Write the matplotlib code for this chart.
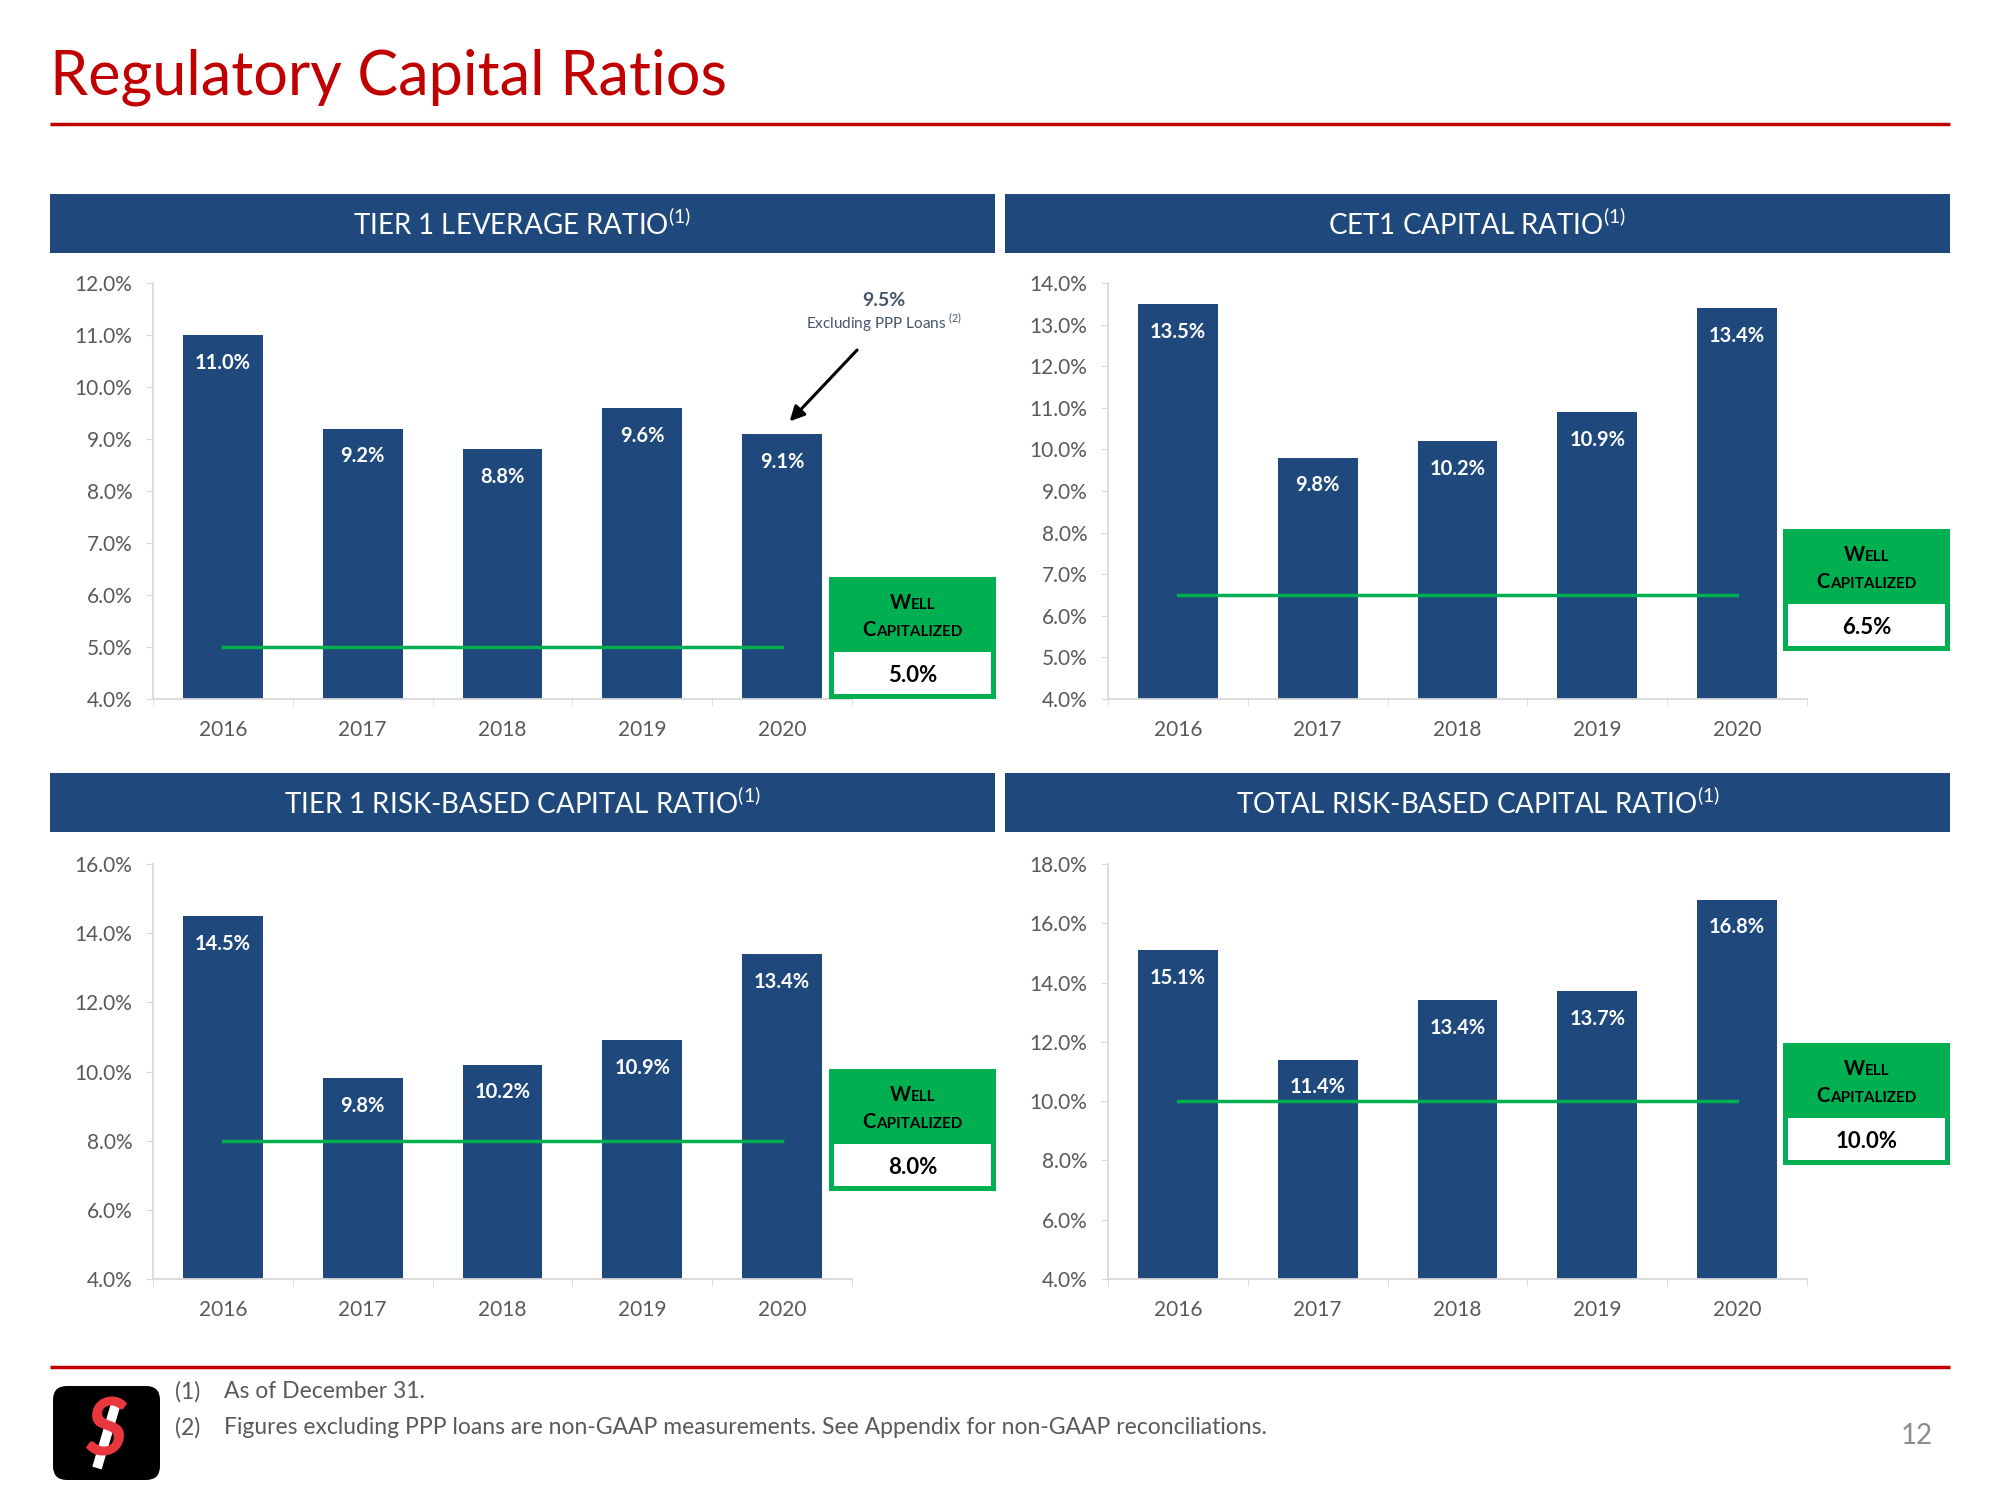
import matplotlib
matplotlib.use("Agg")
import matplotlib.pyplot as plt
import numpy as np
from matplotlib.patches import Rectangle, FancyBboxPatch
from matplotlib.offsetbox import TextArea, HPacker, AnnotationBbox

plt.rcParams['font.family'] = ['Lato', 'DejaVu Sans']

# data
years = ['2016', '2017', '2018', '2019', '2020']
tier1_leverage = [11.0, 9.2, 8.8, 9.6, 9.1]
cet1 = [13.5, 9.8, 10.2, 10.9, 13.4]
tier1_risk = [14.5, 9.8, 10.2, 10.9, 13.4]
total_risk = [15.1, 11.4, 13.4, 13.7, 16.8]
well_capitalized = [5.0, 6.5, 8.0, 10.0]
panel_titles = ['TIER 1 LEVERAGE RATIO', 'CET1 CAPITAL RATIO',
                'TIER 1 RISK-BASED CAPITAL RATIO', 'TOTAL RISK-BASED CAPITAL RATIO']
ppp_value = 9.5
footnotes = ['As of December 31.',
             'Figures excluding PPP loans are non-GAAP measurements. See Appendix for non-GAAP reconciliations.']

NAVY = '#1F497D'
GREEN = '#00B050'
RED = '#C00000'
GRAY = '#595959'
W, H = 2000, 1500


def rect(x0, y0, x1, y1):
    return [x0 / W, 1 - y1 / H, (x1 - x0) / W, (y1 - y0) / H]


fig = plt.figure(figsize=(20, 15), dpi=100)

# overlay in pixel coordinates for slide decorations
ov = fig.add_axes([0, 0, 1, 1], zorder=10)
ov.set_xlim(0, W)
ov.set_ylim(H, 0)
ov.axis('off')
ov.patch.set_alpha(0)

ov.text(50, 95, 'Regulatory Capital Ratios', color=RED, fontsize=44, va='baseline')
ov.plot([50, 1950], [124, 124], color=RED, lw=2.5, solid_capstyle='butt')

# (values, wc, ymax, step, axes px, header px, box x, box top)
panels = [
    (tier1_leverage, well_capitalized[0], 12, 1, (153, 283, 852, 699), (50, 194, 995, 253), 829, 577),
    (cet1, well_capitalized[1], 14, 1, (1108, 283, 1807, 699), (1005, 194, 1950, 253), 1783, 529),
    (tier1_risk, well_capitalized[2], 16, 2, (153, 864, 852, 1279), (50, 773, 995, 832), 829, 1069),
    (total_risk, well_capitalized[3], 18, 2, (1108, 864, 1807, 1279), (1005, 773, 1950, 832), 1783, 1043),
]


def small_caps(x, y, words, big=14.5, small=11):
    kids = []
    for w in words:
        kids.append(TextArea(w[0], textprops=dict(fontsize=big, fontweight='bold', color='black')))
        kids.append(TextArea(w[1:], textprops=dict(fontsize=small, fontweight='bold', color='black')))
    pack = HPacker(children=kids, align='baseline', pad=0, sep=0)
    ab = AnnotationBbox(pack, (x, y), xycoords='data', frameon=False, box_alignment=(0.5, 0.5))
    ov.add_artist(ab)


axes = []
for (vals, wc, ymax, step, apx, hpx, bx, btop), title in zip(panels, panel_titles):
    # header band
    ov.add_patch(Rectangle((hpx[0], hpx[1]), hpx[2] - hpx[0], hpx[3] - hpx[1], color=NAVY, lw=0))
    ov.text((hpx[0] + hpx[2]) / 2, (hpx[1] + hpx[3]) / 2 + 1,
            title + r'$^{\mathregular{(1)}}$', color='white', fontsize=20,
            ha='center', va='center')

    ax = fig.add_axes(rect(*apx))
    x = np.arange(len(years))
    ax.bar(x, vals, width=0.57, color=NAVY, zorder=2)
    for i, v in enumerate(vals):
        ax.annotate(f'{v:.1f}%', (i, v), xytext=(0, -20), textcoords='offset points',
                    ha='center', va='center', color='white', fontweight='bold', fontsize=14.5, zorder=3)
    ax.plot([0, len(years) - 1], [wc, wc], color=GREEN, lw=2.5, zorder=4)

    ax.set_xlim(-0.5, len(years) - 0.5)
    ax.set_ylim(4, ymax)
    yt = np.arange(4, ymax + 0.01, step)
    ax.set_yticks(yt)
    ax.set_yticklabels([f'{t:.1f}%' for t in yt])
    ax.set_xticks(x)
    ax.set_xticklabels(years)
    ax.set_xticks(np.arange(-0.5, len(years)), minor=True)
    ax.tick_params(axis='x', which='major', length=0, pad=15, labelsize=15, labelcolor=GRAY)
    ax.tick_params(axis='x', which='minor', length=5, color='#D9D9D9')
    ax.tick_params(axis='y', length=5, color='#D9D9D9', pad=10, labelsize=15, labelcolor=GRAY)
    for s in ['top', 'right']:
        ax.spines[s].set_visible(False)
    for s in ['left', 'bottom']:
        ax.spines[s].set_color('#D9D9D9')
        ax.spines[s].set_linewidth(1.3)
    ax.patch.set_alpha(0)
    axes.append(ax)

    # well capitalized box
    bw, bh = 167, 122
    ov.add_patch(Rectangle((bx, btop), bw, bh, color=GREEN, lw=0))
    ov.add_patch(Rectangle((bx + 5, btop + 75), bw - 10, bh - 80, color='white', lw=0))
    small_caps(bx + bw / 2, btop + 26, ['WELL'])
    small_caps(bx + bw / 2, btop + 53, ['CAPITALIZED'])
    ov.text(bx + bw / 2, btop + 99, f'{wc:.1f}%', color='black', fontweight='bold',
            fontsize=16, ha='center', va='center')

# PPP annotation on the leverage chart
ax0 = axes[0]
ax0.annotate('', xy=(4.04, 9.3), xytext=(4.55, 10.75),
             arrowprops=dict(arrowstyle='-|>', color='black', lw=2.2, mutation_scale=22),
             annotation_clip=False)
ax0.text(4.73, 11.66, f'{ppp_value:.1f}%', color='#44546A', fontweight='bold', fontsize=14,
         ha='center', va='center', clip_on=False)
ax0.text(4.73, 11.24, r'Excluding PPP Loans $^{\mathregular{(2)}}$', color='#44546A', fontsize=11,
         ha='center', va='center', clip_on=False)

# footer
ov.plot([50, 1950], [1367, 1367], color=RED, lw=2.5, solid_capstyle='butt')
for i, note in enumerate(footnotes):
    yy = 1392 + i * 36
    ov.text(175, yy, f'({i + 1})', color=GRAY, fontsize=16.5, va='center')
    ov.text(224, yy, note, color=GRAY, fontsize=16.5, va='center')
ov.text(1917, 1436, '12', color='#8C8C8C', fontsize=20, ha='center', va='center')

# logo
ov.add_patch(FancyBboxPatch((53, 1386), 107, 94, boxstyle='round,pad=0,rounding_size=14',
                            fc='black', ec='none'))
ov.text(106, 1433, 'S', color='#E8383D', fontsize=58, fontweight='bold', style='italic',
        ha='center', va='center')
ov.plot([97, 117], [1468, 1400], color='white', lw=7, solid_capstyle='butt')

fig.savefig('out.png', dpi=100)
